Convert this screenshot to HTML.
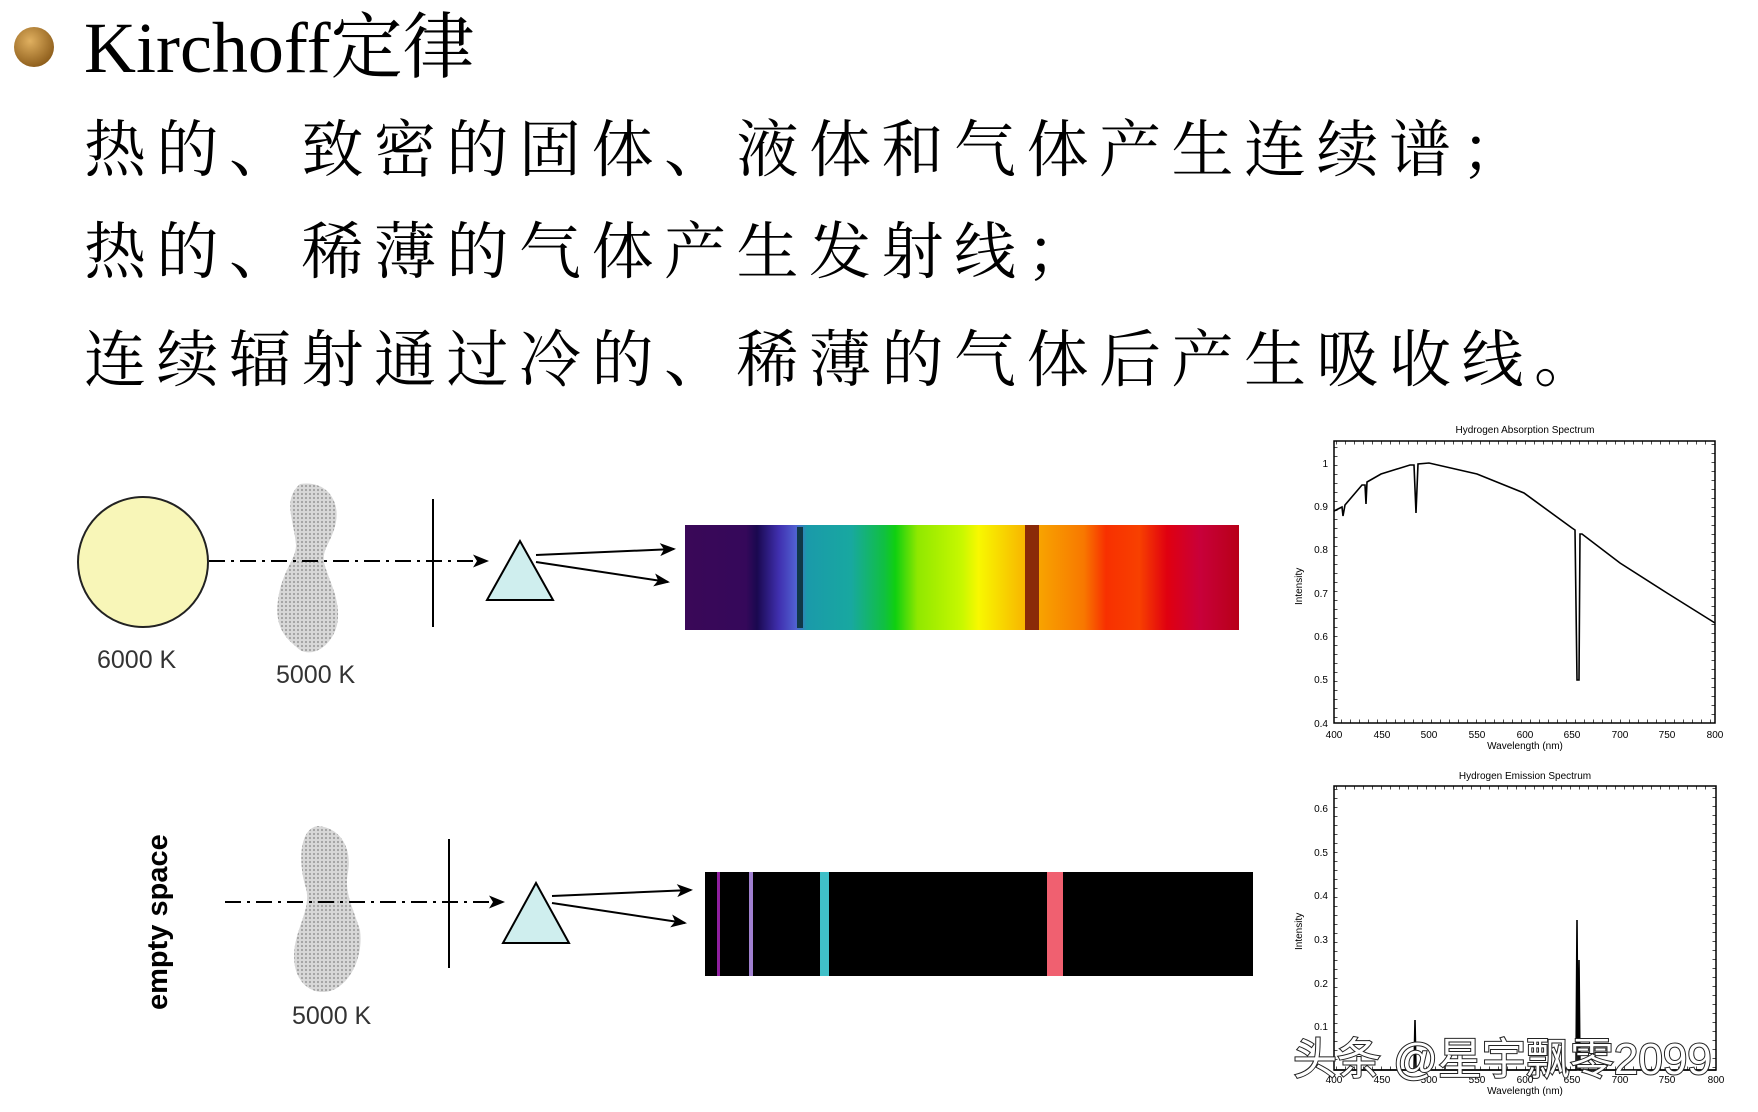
<!DOCTYPE html>
<html><head><meta charset="utf-8"><style>
html,body{margin:0;padding:0;background:#fff;}
svg{display:block;}
.cn{font-family:"Liberation Serif","Noto Serif CJK SC",serif;font-size:62px;letter-spacing:10.5px;fill:#000;}
.lab{font-family:"Liberation Sans",sans-serif;font-size:25px;fill:#333;}
.tk{font-family:"Liberation Sans",sans-serif;font-size:10px;fill:#000;}
</style></head><body>
<svg width="1758" height="1112" viewBox="0 0 1758 1112" xmlns="http://www.w3.org/2000/svg">
<defs>
<radialGradient id="bul" cx="0.4" cy="0.35" r="0.7"><stop offset="0" stop-color="#e0b060"/><stop offset="1" stop-color="#8a5a18"/></radialGradient>
<linearGradient id="spec" x1="0" x2="1" y1="0" y2="0">
<stop offset="0" stop-color="#3a0858"/><stop offset="0.11" stop-color="#35085a"/><stop offset="0.13" stop-color="#1a0850"/>
<stop offset="0.17" stop-color="#4030b0"/><stop offset="0.2" stop-color="#5060d0"/><stop offset="0.22" stop-color="#1a9aaa"/>
<stop offset="0.3" stop-color="#18a8a0"/><stop offset="0.36" stop-color="#10c040"/><stop offset="0.38" stop-color="#10d010"/>
<stop offset="0.42" stop-color="#90e800"/><stop offset="0.5" stop-color="#c8f800"/><stop offset="0.53" stop-color="#f8f800"/>
<stop offset="0.58" stop-color="#f8d000"/><stop offset="0.63" stop-color="#f8a800"/><stop offset="0.72" stop-color="#f87800"/>
<stop offset="0.76" stop-color="#f83000"/><stop offset="0.82" stop-color="#f84000"/><stop offset="0.87" stop-color="#e00010"/>
<stop offset="0.93" stop-color="#c8003a"/><stop offset="1" stop-color="#b80018"/>
</linearGradient>
<pattern id="dots" width="4" height="4" patternUnits="userSpaceOnUse"><rect width="4" height="4" fill="#d8d8d8"/><circle cx="2" cy="2" r="1.1" fill="#a0a0a0"/></pattern>
<marker id="ar" markerWidth="16" markerHeight="13" refX="14" refY="6.5" orient="auto" markerUnits="userSpaceOnUse"><path d="M0,0 L16,6.5 L0,13 L4,6.5 Z" fill="#000"/></marker>
</defs>

<circle cx="34" cy="47" r="20" fill="url(#bul)"/>
<text x="84" y="72" font-family="Liberation Serif,'Noto Serif CJK SC',serif" font-size="72" fill="#000">Kirchoff定律</text>
<text class="cn" x="84" y="171">热的、致密的固体、液体和气体产生连续谱；</text>
<text class="cn" x="84" y="273">热的、稀薄的气体产生发射线；</text>
<text class="cn" x="84" y="381">连续辐射通过冷的、稀薄的气体后产生吸收线。</text>

<circle cx="143" cy="562" r="65" fill="#f8f6b8" stroke="#222" stroke-width="2"/>
<path d="M300,484 C326,480 340,500 336,522 C332,542 322,548 324,562 C328,580 342,600 337,625 C332,645 314,658 300,650 C288,640 274,630 278,600 C282,570 296,560 296,545 C294,520 282,500 300,484 Z" fill="url(#dots)"/>
<line x1="209" y1="561" x2="487" y2="561" stroke="#000" stroke-width="2" stroke-dasharray="16,6,3,6" marker-end="url(#ar)"/>
<line x1="433" y1="499" x2="433" y2="627" stroke="#000" stroke-width="2"/>
<polygon points="520,541 487,600 553,600" fill="#cfeeee" stroke="#000" stroke-width="2"/>
<line x1="536" y1="555" x2="674" y2="549" stroke="#000" stroke-width="2" marker-end="url(#ar)"/>
<line x1="536" y1="562" x2="668" y2="582" stroke="#000" stroke-width="2" marker-end="url(#ar)"/>
<rect x="685" y="525" width="554" height="105" fill="url(#spec)"/>
<rect x="797" y="527" width="6" height="101" fill="#103848"/>
<rect x="1025" y="525" width="14" height="105" fill="#8a2a08"/>
<text class="lab" x="97" y="668">6000 K</text>
<text class="lab" x="276" y="683">5000 K</text>

<text x="0" y="0" transform="translate(167,1010) rotate(-90)" font-family="Liberation Sans,sans-serif" font-weight="bold" font-size="29" fill="#000">empty space</text>
<path d="M318,826 C342,828 352,850 348,872 C344,892 352,905 360,930 C364,960 347,990 325,992 C305,993 290,975 295,945 C300,920 312,905 305,885 C298,860 300,828 318,826 Z" fill="url(#dots)"/>
<line x1="225" y1="902" x2="503" y2="902" stroke="#000" stroke-width="2" stroke-dasharray="16,6,3,6" marker-end="url(#ar)"/>
<line x1="449" y1="839" x2="449" y2="968" stroke="#000" stroke-width="2"/>
<polygon points="536,883 503,943 569,943" fill="#cfeeee" stroke="#000" stroke-width="2"/>
<line x1="552" y1="896" x2="691" y2="890" stroke="#000" stroke-width="2" marker-end="url(#ar)"/>
<line x1="552" y1="903" x2="685" y2="923" stroke="#000" stroke-width="2" marker-end="url(#ar)"/>
<rect x="705" y="872" width="548" height="104" fill="#000"/>
<rect x="717" y="872" width="3" height="104" fill="#9020a0"/>
<rect x="749" y="872" width="4" height="104" fill="#a080d0"/>
<rect x="820" y="872" width="9" height="104" fill="#40c0c8"/>
<rect x="1047" y="872" width="16" height="104" fill="#f06070"/>
<text class="lab" x="292" y="1024">5000 K</text>

<text class="tk" x="1525" y="433" text-anchor="middle">Hydrogen Absorption Spectrum</text>
<rect x="1334" y="441" width="381" height="282" fill="none" stroke="#000" stroke-width="1.5"/>
<rect x="1336" y="443" width="377" height="278" fill="none" stroke="#000" stroke-width="3" stroke-dasharray="1,8" opacity="0.7"/>
<polyline fill="none" stroke="#000" stroke-width="1.6" points="1334,511 1342,507 1343,516 1345,505 1362,485 1365,485 1366,504 1367,482 1381,474 1410,465 1414,465 1416,513 1418,464 1429,463 1477,474 1524,493 1572,528 1575,530 1577,680 1579,680 1580,534 1582,534 1620,563 1667,593 1715,623"/>
<g class="tk" text-anchor="end"><text x="1328" y="467">1</text><text x="1328" y="510">0.9</text><text x="1328" y="553">0.8</text><text x="1328" y="597">0.7</text><text x="1328" y="640">0.6</text><text x="1328" y="683">0.5</text><text x="1328" y="727">0.4</text></g>
<g class="tk" text-anchor="middle"><text x="1334" y="738">400</text><text x="1382" y="738">450</text><text x="1429" y="738">500</text><text x="1477" y="738">550</text><text x="1525" y="738">600</text><text x="1572" y="738">650</text><text x="1620" y="738">700</text><text x="1667" y="738">750</text><text x="1715" y="738">800</text><text x="1525" y="749">Wavelength (nm)</text></g>
<text class="tk" x="0" y="0" transform="translate(1302,605) rotate(-90)">Intensity</text>

<text class="tk" x="1525" y="779" text-anchor="middle">Hydrogen Emission Spectrum</text>
<rect x="1334" y="786" width="382" height="284" fill="none" stroke="#000" stroke-width="1.5"/>
<rect x="1336" y="788" width="378" height="280" fill="none" stroke="#000" stroke-width="3" stroke-dasharray="1,8" opacity="0.7"/>
<polyline fill="none" stroke="#000" stroke-width="1.6" points="1334,1070 1414,1070 1415,1020 1416,1070 1576,1070 1577,920 1578,1070 1579,960 1580,1070 1716,1070"/>
<g class="tk" text-anchor="end"><text x="1328" y="812">0.6</text><text x="1328" y="856">0.5</text><text x="1328" y="899">0.4</text><text x="1328" y="943">0.3</text><text x="1328" y="987">0.2</text><text x="1328" y="1030">0.1</text></g>
<g class="tk" text-anchor="middle"><text x="1334" y="1083">400</text><text x="1382" y="1083">450</text><text x="1429" y="1083">500</text><text x="1477" y="1083">550</text><text x="1525" y="1083">600</text><text x="1572" y="1083">650</text><text x="1620" y="1083">700</text><text x="1667" y="1083">750</text><text x="1716" y="1083">800</text><text x="1525" y="1094">Wavelength (nm)</text></g>
<text class="tk" x="0" y="0" transform="translate(1302,950) rotate(-90)">Intensity</text>

<text x="1293" y="1074" font-family="Liberation Sans,'Noto Sans CJK SC',sans-serif" font-size="44" fill="#fff" stroke="#222" stroke-width="2" paint-order="stroke">头条 @星宇飘零2099</text>
</svg>
</body></html>
